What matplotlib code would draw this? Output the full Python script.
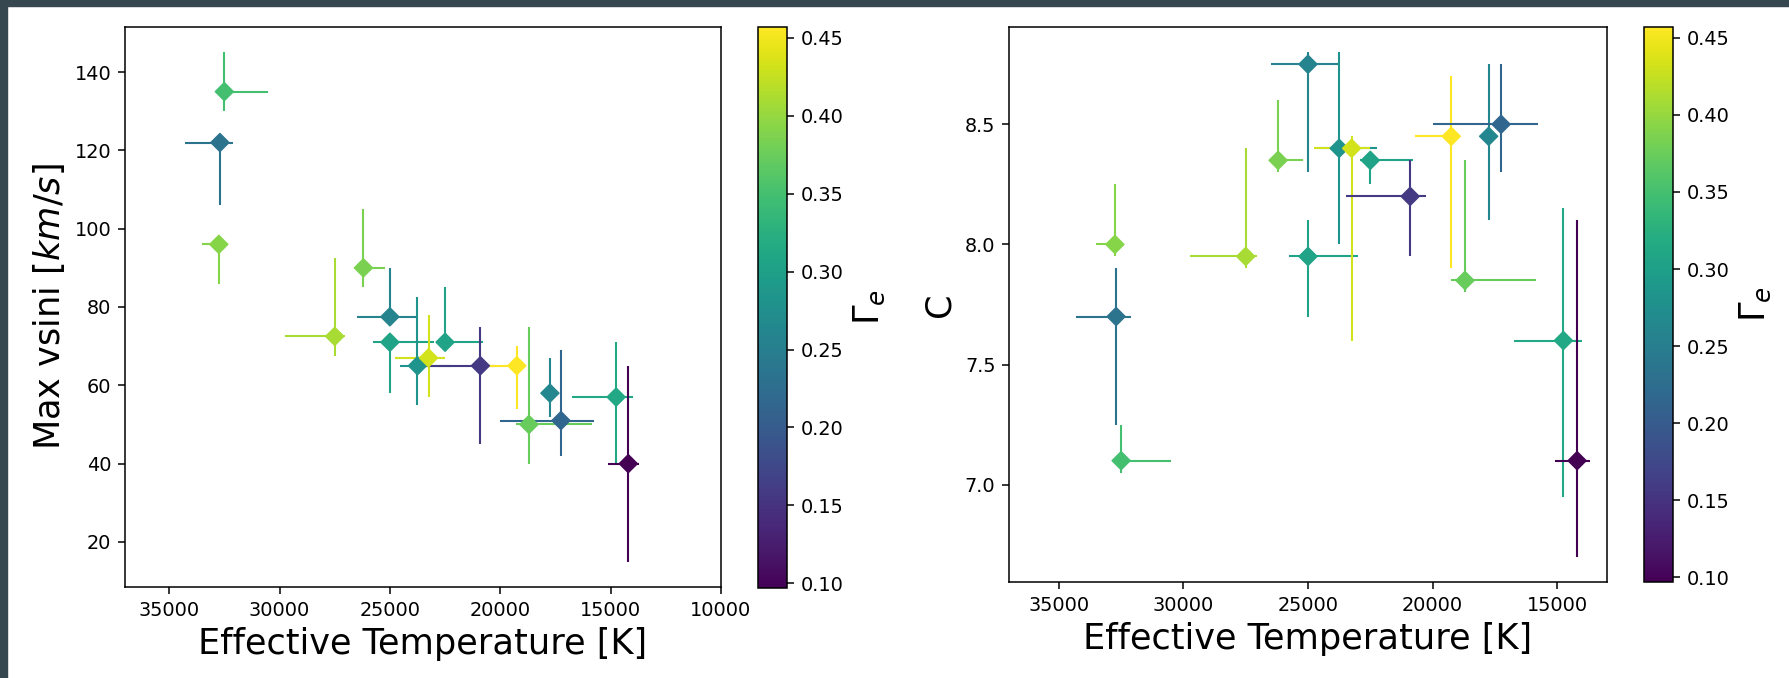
import matplotlib
matplotlib.use("Agg")
import matplotlib.pyplot as plt
from matplotlib.patches import Rectangle
import numpy as np

# Effective temperature of each star [K] and its asymmetric errors
teff = [32500, 32700, 32750, 26200, 27500, 25000, 25000, 23750, 23250,
        22500, 20900, 19250, 18700, 17750, 17250, 14750, 14200]
teff_err_hi = [100, 1600, 750, 0, 2250, 1500, 750, 800, 1500,
               400, 2575, 1450, 570, 0, 2750, 2000, 900]
teff_err_lo = [2000, 600, 0, 1000, 450, 1250, 2000, 1500, 750,
               1700, 650, 0, 2850, 0, 1500, 750, 500]

# Max vsini [km/s]
vsini = [135, 122, 96, 90, 72.5, 77.5, 71, 65, 67, 71, 65, 65, 50, 58, 51, 57, 40]
vsini_err_hi = [10, 0, 0, 15, 20, 12.5, 0, 17.5, 11, 14, 10, 5, 25, 9, 18, 14, 25]
vsini_err_lo = [5, 16, 10, 5, 5, 0, 13, 10, 10, 0, 20, 11, 10, 6, 9, 17, 25]

# C parameter
c_val = [7.1, 7.7, 8.0, 8.35, 7.95, 8.75, 7.95, 8.4, 8.4, 8.35, 8.2, 8.45,
         7.85, 8.45, 8.5, 7.6, 7.1]
c_err_hi = [0.15, 0.2, 0.25, 0.25, 0.45, 0.05, 0.15, 0.4, 0.05, 0.0, 0.15,
            0.25, 0.5, 0.3, 0.25, 0.55, 1.0]
c_err_lo = [0.05, 0.45, 0.05, 0.05, 0.05, 0.45, 0.25, 0.4, 0.8, 0.1, 0.25,
            0.55, 0.05, 0.35, 0.2, 0.65, 0.4]

# Gamma_e (colour)
gamma_e = [0.349, 0.234, 0.392, 0.385, 0.41, 0.259, 0.306, 0.284, 0.432,
           0.306, 0.158, 0.457, 0.374, 0.262, 0.216, 0.313, 0.097]

W, H = 1789, 678

# original was rendered at a higher dpi, so scale the default sizes up
plt.rcParams.update({
    "axes.linewidth": 1.1,
    "xtick.major.size": 4.9, "ytick.major.size": 4.9,
    "xtick.major.width": 1.1, "ytick.major.width": 1.1,
    "xtick.major.pad": 4.9, "ytick.major.pad": 4.9,
    "axes.labelpad": 5.6,
})


def fig_rect(x0, y0, x1, y1):
    # pixel box (top-left origin) -> figure fraction rect
    return [x0 / W, (H - y1) / H, (x1 - x0) / W, (y1 - y0) / H]


def panel(ax, cax, y, y_lo, y_hi, ylabel):
    cmap = plt.get_cmap("viridis")
    norm = plt.Normalize(min(gamma_e), max(gamma_e))
    for i in range(len(teff)):
        col = cmap(norm(gamma_e[i]))
        ax.errorbar(teff[i], y[i],
                    xerr=[[teff_err_lo[i]], [teff_err_hi[i]]],
                    yerr=[[y_lo[i]], [y_hi[i]]],
                    fmt="none", ecolor=col, elinewidth=1.5, capsize=0)
    sc = ax.scatter(teff, y, c=gamma_e, cmap=cmap, norm=norm,
                    marker="D", s=85, zorder=3)
    cb = plt.colorbar(sc, cax=cax)
    cb.set_label(r"$\Gamma_e$", fontsize=25.3)
    cb.ax.tick_params(labelsize=13.9)
    cb.outline.set_linewidth(1.1)
    ax.set_xlabel("Effective Temperature [K]", fontsize=25.3)
    ax.set_ylabel(ylabel, fontsize=25.3)
    ax.tick_params(labelsize=13.9)


fig = plt.figure(figsize=(W / 100, H / 100), dpi=100)

# 1. left: vsini vs Teff
ax1 = fig.add_axes(fig_rect(125, 27, 721, 587))
cax1 = fig.add_axes(fig_rect(758, 27, 787, 588))
panel(ax1, cax1, vsini, vsini_err_lo, vsini_err_hi, r"Max vsini [$km/s$]")
ax1.set_xlim(37000, 10000)
ax1.set_xticks([35000, 30000, 25000, 20000, 15000, 10000])

# 2. right: C vs Teff
ax2 = fig.add_axes(fig_rect(1009, 27, 1607, 582))
cax2 = fig.add_axes(fig_rect(1644, 27, 1673, 582))
panel(ax2, cax2, c_val, c_err_lo, c_err_hi, "C")
ax2.set_xlim(37000, 13000)
ax2.set_xticks([35000, 30000, 25000, 20000, 15000])
ax2.set_yticks([7.0, 7.5, 8.0, 8.5])

# dark frame strips along the top and left edge
fig.patches.append(Rectangle((0, 1 - 6 / H), 1, 6 / H, transform=fig.transFigure,
                             color="#37474f", zorder=10))
fig.patches.append(Rectangle((0, 0), 7 / W, 1, transform=fig.transFigure,
                             color="#37474f", zorder=10))

fig.savefig("out.png", dpi=100)
